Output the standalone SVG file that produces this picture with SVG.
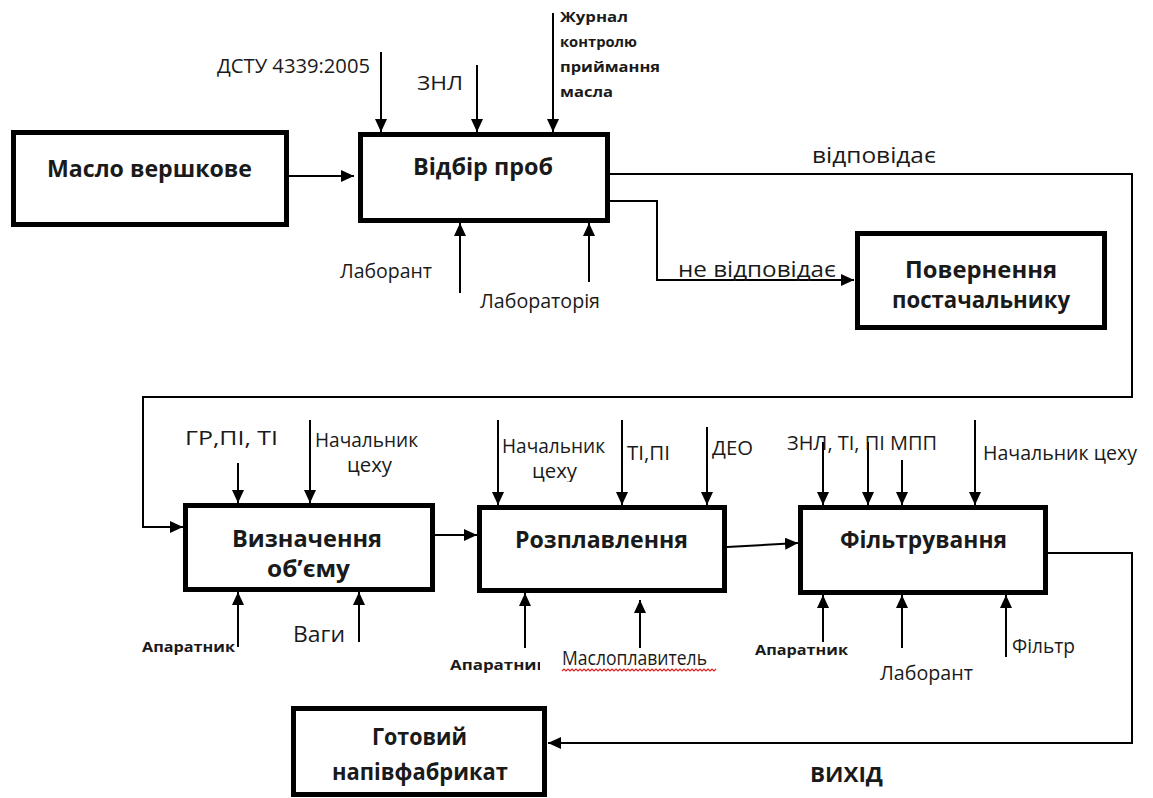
<svg xmlns="http://www.w3.org/2000/svg" width="1153" height="798" viewBox="0 0 1153 798">
  <defs>
    <marker id="arrow" viewBox="0 0 13 12" refX="13" refY="6" markerWidth="13" markerHeight="12" markerUnits="userSpaceOnUse" orient="auto">
      <path d="M0,0 L13,6 L0,12 z" fill="#000"/>
    </marker>
    <clipPath id="clip-ap2"><rect x="440" y="640" width="100" height="40"/></clipPath>
    <clipPath id="clip-cekh2"><rect x="520" y="455" width="80" height="27"/></clipPath>
  </defs>
  <style>
    .box{fill:#fff;stroke:#000;stroke-width:5}
    .t{font-family:"Open Sans","Noto Sans","DejaVu Sans",sans-serif;fill:#1a1a1a}
    .title{font-weight:bold;font-size:24px}
    .lbl{font-size:20px}
    .big{font-size:22px}
    .sb{font-weight:bold;font-size:15px}
    .c{fill:none;stroke:#000;stroke-width:2}
    .ca{fill:none;stroke:#000;stroke-width:2;marker-end:url(#arrow)}
    .wave{fill:none;stroke:#e02020;stroke-width:1.2}
  </style>
  <rect width="1153" height="798" fill="#fff"/>

  <!-- connectors -->
  <g id="connectors">
    <line class="ca" x1="289" y1="176" x2="354" y2="176"/>
    <line class="ca" x1="381" y1="52" x2="381" y2="132"/>
    <line class="ca" x1="477" y1="65" x2="477" y2="132"/>
    <line class="ca" x1="553" y1="13" x2="553" y2="132"/>
    <line class="ca" x1="460" y1="293" x2="460" y2="223"/>
    <line class="ca" x1="589" y1="282" x2="589" y2="223"/>
    <polyline class="ca" points="610,174 1132,174 1132,397 143,397 143,527 183,527"/>
    <polyline class="ca" points="610,201 657,201 657,280 854,280"/>
    <line class="ca" x1="238" y1="463" x2="238" y2="503"/>
    <line class="ca" x1="310" y1="420" x2="310" y2="503"/>
    <line class="ca" x1="238" y1="647" x2="238" y2="592"/>
    <line class="ca" x1="359" y1="642" x2="359" y2="592"/>
    <line class="ca" x1="435" y1="535" x2="477" y2="535"/>
    <line class="ca" x1="498" y1="420" x2="498" y2="505"/>
    <line class="ca" x1="622" y1="420" x2="622" y2="505"/>
    <line class="ca" x1="707" y1="427" x2="707" y2="505"/>
    <line class="ca" x1="525" y1="648" x2="525" y2="593"/>
    <line class="ca" x1="640" y1="648" x2="640" y2="600"/>
    <line class="ca" x1="727" y1="547" x2="798" y2="543"/>
    <line class="ca" x1="823" y1="442" x2="823" y2="505"/>
    <line class="ca" x1="868" y1="442" x2="868" y2="505"/>
    <line class="ca" x1="902" y1="460" x2="902" y2="505"/>
    <line class="ca" x1="975" y1="420" x2="975" y2="505"/>
    <line class="ca" x1="823" y1="642" x2="823" y2="595"/>
    <line class="ca" x1="902" y1="648" x2="902" y2="595"/>
    <line class="ca" x1="1006" y1="657" x2="1006" y2="595"/>
    <polyline class="ca" points="1048,553 1132,553 1132,743 548,743"/>
  </g>

  <!-- process boxes -->
  <g id="maslo">
    <rect class="box" x="13.5" y="132.5" width="273" height="92"/>
    <text class="t title" x="47" y="177" textLength="205" lengthAdjust="spacingAndGlyphs">Масло вершкове</text>
  </g>
  <g id="vidbir">
    <rect class="box" x="360.5" y="134.5" width="247" height="86"/>
    <text class="t title" x="413" y="175" textLength="140" lengthAdjust="spacingAndGlyphs">Відбір проб</text>
  </g>
  <g id="povernennia">
    <rect class="box" x="857.5" y="233.5" width="247" height="94"/>
    <text class="t title" x="905" y="278" textLength="152" lengthAdjust="spacingAndGlyphs">Повернення</text>
    <text class="t title" x="892" y="308" textLength="178" lengthAdjust="spacingAndGlyphs">постачальнику</text>
  </g>
  <g id="vyznachennia">
    <rect class="box" x="185.5" y="505.5" width="247" height="84"/>
    <text class="t title" x="232" y="547" textLength="150" lengthAdjust="spacingAndGlyphs">Визначення</text>
    <text class="t title" x="267" y="577" textLength="83" lengthAdjust="spacingAndGlyphs">об’єму</text>
  </g>
  <g id="rozplavlennia">
    <rect class="box" x="479.5" y="507.5" width="245" height="83"/>
    <text class="t title" x="515" y="548" textLength="173" lengthAdjust="spacingAndGlyphs">Розплавлення</text>
  </g>
  <g id="filtruvannia">
    <rect class="box" x="800.5" y="507.5" width="245" height="85"/>
    <text class="t title" x="840" y="548" textLength="167" lengthAdjust="spacingAndGlyphs">Фільтрування</text>
  </g>
  <g id="gotovyi">
    <rect class="box" x="293.5" y="708.5" width="251" height="86"/>
    <text class="t title" x="372" y="745" textLength="95" lengthAdjust="spacingAndGlyphs">Готовий</text>
    <text class="t title" x="332" y="780" textLength="176" lengthAdjust="spacingAndGlyphs">напівфабрикат</text>
  </g>

  <!-- arrow labels -->
  <g id="labels-vidbir">
    <text class="t lbl" x="217" y="73" textLength="153" lengthAdjust="spacingAndGlyphs">ДСТУ 4339:2005</text>
    <text class="t lbl" x="417" y="90" textLength="46" lengthAdjust="spacingAndGlyphs">ЗНЛ</text>
    <text class="t sb" x="560" y="22" textLength="68" lengthAdjust="spacingAndGlyphs">Журнал</text>
    <text class="t sb" x="560" y="47" textLength="77" lengthAdjust="spacingAndGlyphs">контролю</text>
    <text class="t sb" x="560" y="72" textLength="100" lengthAdjust="spacingAndGlyphs">приймання</text>
    <text class="t sb" x="560" y="97" textLength="53" lengthAdjust="spacingAndGlyphs">масла</text>
    <text class="t lbl" x="340" y="278" textLength="92" lengthAdjust="spacingAndGlyphs">Лаборант</text>
    <text class="t lbl" x="480" y="308" textLength="120" lengthAdjust="spacingAndGlyphs">Лабораторія</text>
    <text class="t big" x="812" y="163" textLength="124" lengthAdjust="spacingAndGlyphs">відповідає</text>
    <text class="t big" x="678" y="277" textLength="158" lengthAdjust="spacingAndGlyphs">не відповідає</text>
  </g>
  <g id="labels-vyznachennia">
    <text class="t lbl" x="185" y="445" textLength="93" lengthAdjust="spacingAndGlyphs">ГР,ПІ, ТІ</text>
    <text class="t lbl" x="315" y="447" textLength="103" lengthAdjust="spacingAndGlyphs">Начальник</text>
    <text class="t lbl" x="347" y="472" textLength="45" lengthAdjust="spacingAndGlyphs">цеху</text>
    <text class="t sb" x="142" y="652" textLength="93" lengthAdjust="spacingAndGlyphs">Апаратник</text>
    <text class="t big" x="293" y="642" textLength="52" lengthAdjust="spacingAndGlyphs">Ваги</text>
  </g>
  <g id="labels-rozplavlennia">
    <text class="t lbl" x="502" y="453" textLength="103" lengthAdjust="spacingAndGlyphs">Начальник</text>
    <text class="t lbl" x="532" y="478" textLength="45" lengthAdjust="spacingAndGlyphs" clip-path="url(#clip-cekh2)">цеху</text>
    <text class="t lbl" x="627" y="460" textLength="43" lengthAdjust="spacingAndGlyphs">ТІ,ПІ</text>
    <text class="t lbl" x="712" y="455" textLength="41" lengthAdjust="spacingAndGlyphs">ДЕО</text>
    <text class="t sb" x="450" y="670" textLength="97" lengthAdjust="spacingAndGlyphs" clip-path="url(#clip-ap2)">Апаратник</text>
    <text class="t lbl" x="562" y="665" textLength="145" lengthAdjust="spacingAndGlyphs">Маслоплавитель</text>
    <path class="wave" d="M562,671 l2,-2 l2,2 l2,-2 l2,2 l2,-2 l2,2 l2,-2 l2,2 l2,-2 l2,2 l2,-2 l2,2 l2,-2 l2,2 l2,-2 l2,2 l2,-2 l2,2 l2,-2 l2,2 l2,-2 l2,2 l2,-2 l2,2 l2,-2 l2,2 l2,-2 l2,2 l2,-2 l2,2 l2,-2 l2,2 l2,-2 l2,2 l2,-2 l2,2 l2,-2 l2,2 l2,-2 l2,2 l2,-2 l2,2 l2,-2 l2,2 l2,-2 l2,2 l2,-2 l2,2 l2,-2 l2,2 l2,-2 l2,2 l2,-2 l2,2 l2,-2 l2,2 l2,-2 l2,2 l2,-2 l2,2 l2,-2 l2,2 l2,-2 l2,2 l2,-2 l2,2 l2,-2 l2,2 l2,-2 l2,2 l2,-2 l2,2 l2,-2 l2,2 l2,-2 l2,2 l2,-2"/>
  </g>
  <g id="labels-filtruvannia">
    <text class="t lbl" x="787" y="450" textLength="150" lengthAdjust="spacingAndGlyphs">ЗНЛ, ТІ, ПІ МПП</text>
    <text class="t lbl" x="983" y="460" textLength="154" lengthAdjust="spacingAndGlyphs">Начальник цеху</text>
    <text class="t sb" x="755" y="655" textLength="93" lengthAdjust="spacingAndGlyphs">Апаратник</text>
    <text class="t lbl" x="880" y="680" textLength="93" lengthAdjust="spacingAndGlyphs">Лаборант</text>
    <text class="t lbl" x="1012" y="653" textLength="63" lengthAdjust="spacingAndGlyphs">Фільтр</text>
  </g>
  <g id="label-vykhid">
    <text class="t title" x="810" y="782" textLength="73" lengthAdjust="spacingAndGlyphs" style="font-size:22px">ВИХІД</text>
  </g>
</svg>
